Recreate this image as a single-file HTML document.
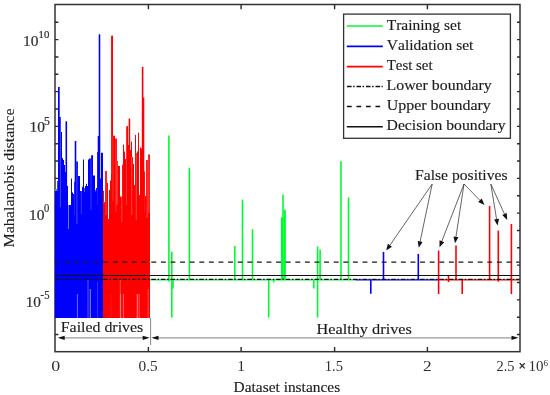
<!DOCTYPE html>
<html><head><meta charset="utf-8"><style>
html,body{margin:0;padding:0;background:#fff;}
svg{display:block;will-change:transform;font-family:"Liberation Serif",serif;fill:#1c1c1c;}
text{stroke:#1c1c1c;stroke-width:0.15px;font-kerning:none;}
</style></head><body>
<svg width="550" height="395" viewBox="0 0 550 395">
<rect width="550" height="395" fill="#fff"/>
<rect x="55.0" y="4.5" width="465.0" height="347.2" fill="none" stroke="#333333" stroke-width="1.5"/>
<path d="M55.0,334.55h3.4M520.0,334.55h-3.0M55.0,317.20h3.4M520.0,317.20h-3.0M55.0,299.85h3.4M520.0,299.85h-3.0M55.0,282.50h3.4M520.0,282.50h-3.0M55.0,265.15h3.4M520.0,265.15h-3.0M55.0,247.80h3.4M520.0,247.80h-3.0M55.0,230.45h3.4M520.0,230.45h-3.0M55.0,213.10h3.4M520.0,213.10h-3.0M55.0,195.75h3.4M520.0,195.75h-3.0M55.0,178.40h3.4M520.0,178.40h-3.0M55.0,161.05h3.4M520.0,161.05h-3.0M55.0,143.70h3.4M520.0,143.70h-3.0M55.0,126.35h3.4M520.0,126.35h-3.0M55.0,109.00h3.4M520.0,109.00h-3.0M55.0,91.65h3.4M520.0,91.65h-3.0M55.0,74.30h3.4M520.0,74.30h-3.0M55.0,56.95h3.4M520.0,56.95h-3.0M55.0,39.60h3.4M520.0,39.60h-3.0M55.0,22.25h3.4M520.0,22.25h-3.0M148.40,351.7v-4.8M148.40,4.5v4.8M241.10,351.7v-4.8M241.10,4.5v4.8M334.60,351.7v-4.8M334.60,4.5v4.8M427.40,351.7v-4.8M427.40,4.5v4.8" stroke="#2a2a2a" stroke-width="1.4" fill="none"/>
<path d="M54.90,318.0 L54.90,191.00 L56.00,191.00 L56.00,189.00 L57.00,189.00 L57.00,181.00 L58.00,181.00 L58.00,87.00 L59.00,87.00 L59.00,117.00 L60.00,117.00 L60.00,117.00 L61.00,117.00 L61.00,132.00 L62.00,132.00 L62.00,158.00 L63.00,158.00 L63.00,160.00 L64.00,160.00 L64.00,165.00 L65.00,165.00 L65.00,172.00 L66.00,172.00 L66.00,121.50 L67.00,121.50 L67.00,186.00 L68.00,186.00 L68.00,205.00 L69.00,205.00 L69.00,205.00 L70.00,205.00 L70.00,205.00 L71.00,205.00 L71.00,178.60 L72.00,178.60 L72.00,192.00 L73.00,192.00 L73.00,194.00 L74.00,194.00 L74.00,181.80 L75.00,181.80 L75.00,141.00 L76.00,141.00 L76.00,161.50 L77.00,161.50 L77.00,161.50 L78.00,161.50 L78.00,176.00 L79.00,176.00 L79.00,176.00 L80.00,176.00 L80.00,191.00 L81.00,191.00 L81.00,191.00 L82.00,191.00 L82.00,186.80 L83.00,186.80 L83.00,159.60 L84.00,159.60 L84.00,188.00 L85.00,188.00 L85.00,186.00 L86.00,186.00 L86.00,183.70 L87.00,183.70 L87.00,186.00 L88.00,186.00 L88.00,159.60 L89.00,159.60 L89.00,158.40 L90.00,158.40 L90.00,158.40 L91.00,158.40 L91.00,155.20 L92.00,155.20 L92.00,155.20 L93.00,155.20 L93.00,175.40 L94.00,175.40 L94.00,175.40 L95.00,175.40 L95.00,190.00 L96.00,190.00 L96.00,188.00 L97.00,188.00 L97.00,152.00 L98.00,152.00 L98.00,136.00 L99.00,136.00 L99.00,34.40 L100.00,34.40 L100.00,178.60 L101.00,178.60 L101.00,152.70 L102.00,152.70 L102.00,152.70 L103.00,152.70 L103.00,318.0 Z" fill="#0000ff"/>
<path d="M103.00,318.0 L103.00,190.80 L104.00,190.80 L104.00,202.00 L105.00,202.00 L105.00,171.00 L106.00,171.00 L106.00,171.00 L107.00,171.00 L107.00,183.00 L108.00,183.00 L108.00,219.00 L109.00,219.00 L109.00,190.00 L110.00,190.00 L110.00,180.50 L111.00,180.50 L111.00,174.50 L112.00,174.50 L112.00,35.70 L113.00,35.70 L113.00,135.80 L114.00,135.80 L114.00,135.80 L115.00,135.80 L115.00,138.40 L116.00,138.40 L116.00,138.40 L117.00,138.40 L117.00,160.90 L118.00,160.90 L118.00,166.00 L119.00,166.00 L119.00,166.00 L120.00,166.00 L120.00,196.50 L121.00,196.50 L121.00,196.50 L122.00,196.50 L122.00,164.70 L123.00,164.70 L123.00,144.40 L124.00,144.40 L124.00,151.40 L125.00,151.40 L125.00,159.00 L126.00,159.00 L126.00,205.00 L127.00,205.00 L127.00,126.30 L128.00,126.30 L128.00,145.00 L129.00,145.00 L129.00,118.70 L130.00,118.70 L130.00,150.00 L131.00,150.00 L131.00,141.50 L132.00,141.50 L132.00,157.00 L133.00,157.00 L133.00,164.00 L134.00,164.00 L134.00,185.00 L135.00,185.00 L135.00,135.00 L136.00,135.00 L136.00,153.00 L137.00,153.00 L137.00,151.40 L138.00,151.40 L138.00,132.70 L139.00,132.70 L139.00,195.00 L140.00,195.00 L140.00,147.60 L141.00,147.60 L141.00,148.50 L142.00,148.50 L142.00,66.90 L143.00,66.90 L143.00,97.80 L144.00,97.80 L144.00,171.60 L145.00,171.60 L145.00,196.00 L146.00,196.00 L146.00,160.00 L147.00,160.00 L147.00,160.00 L148.00,160.00 L148.00,154.60 L149.00,154.60 L149.00,154.60 L150.00,154.60 L150.00,318.0 Z" fill="#ff0000"/>
<line x1="77.4" y1="294" x2="77.4" y2="318.0" stroke="#ffffff" stroke-opacity="0.5" stroke-width="0.9"/>
<line x1="88.0" y1="280" x2="88.0" y2="318.0" stroke="#ffffff" stroke-opacity="0.4" stroke-width="0.9"/>
<line x1="90.3" y1="289" x2="90.3" y2="318.0" stroke="#ffffff" stroke-opacity="0.6" stroke-width="0.9"/>
<line x1="97.7" y1="282" x2="97.7" y2="318.0" stroke="#ffffff" stroke-opacity="0.4" stroke-width="0.9"/>
<line x1="111.4" y1="294" x2="111.4" y2="318.0" stroke="#ffffff" stroke-opacity="0.5" stroke-width="0.9"/>
<line x1="120.3" y1="280" x2="120.3" y2="318.0" stroke="#ffffff" stroke-opacity="0.35" stroke-width="0.9"/>
<line x1="120.6" y1="294" x2="120.6" y2="318.0" stroke="#ffffff" stroke-opacity="0.4" stroke-width="0.9"/>
<line x1="123.4" y1="294" x2="123.4" y2="318.0" stroke="#ffffff" stroke-opacity="0.45" stroke-width="0.9"/>
<line x1="137.3" y1="294" x2="137.3" y2="318.0" stroke="#ffffff" stroke-opacity="0.6" stroke-width="0.9"/>
<line x1="139.2" y1="294" x2="139.2" y2="318.0" stroke="#ffffff" stroke-opacity="0.4" stroke-width="0.9"/>
<line x1="148.1" y1="289" x2="148.1" y2="318.0" stroke="#ffffff" stroke-opacity="0.35" stroke-width="0.9"/>
<line x1="60.3" y1="117" x2="60.3" y2="207" stroke="#ffffff" stroke-opacity="0.35" stroke-width="0.9"/>
<line x1="68.5" y1="205" x2="68.5" y2="229" stroke="#ffffff" stroke-opacity="0.5" stroke-width="0.9"/>
<line x1="76.8" y1="161.5" x2="76.8" y2="224" stroke="#ffffff" stroke-opacity="0.4" stroke-width="0.9"/>
<line x1="56" y1="189" x2="56" y2="191" stroke="#ffffff" stroke-opacity="0.5" stroke-width="0.9"/>
<line x1="57" y1="181" x2="57" y2="191" stroke="#ffffff" stroke-opacity="0.5" stroke-width="0.9"/>
<line x1="72.5" y1="192" x2="72.5" y2="193" stroke="#ffffff" stroke-opacity="0.5" stroke-width="0.9"/>
<line x1="73.6" y1="181.8" x2="73.6" y2="194" stroke="#ffffff" stroke-opacity="0.35" stroke-width="0.9"/>
<line x1="84.5" y1="188" x2="84.5" y2="192" stroke="#ffffff" stroke-opacity="0.35" stroke-width="0.9"/>
<line x1="95.7" y1="188" x2="95.7" y2="192" stroke="#ffffff" stroke-opacity="0.35" stroke-width="0.9"/>
<line x1="81.3" y1="191" x2="81.3" y2="214" stroke="#ffffff" stroke-opacity="0.25" stroke-width="0.9"/>
<line x1="91.0" y1="155.2" x2="91.0" y2="210" stroke="#ffffff" stroke-opacity="0.25" stroke-width="0.9"/>
<line x1="97.8" y1="136" x2="97.8" y2="205" stroke="#ffffff" stroke-opacity="0.25" stroke-width="0.9"/>
<line x1="74.7" y1="141" x2="74.7" y2="215" stroke="#ffffff" stroke-opacity="0.25" stroke-width="0.9"/>
<line x1="106.0" y1="171" x2="106.0" y2="215" stroke="#ffffff" stroke-opacity="0.3" stroke-width="0.9"/>
<line x1="115.9" y1="138.4" x2="115.9" y2="212" stroke="#ffffff" stroke-opacity="0.25" stroke-width="0.9"/>
<line x1="121.8" y1="164.7" x2="121.8" y2="222" stroke="#ffffff" stroke-opacity="0.3" stroke-width="0.9"/>
<line x1="131.7" y1="157" x2="131.7" y2="215" stroke="#ffffff" stroke-opacity="0.3" stroke-width="0.9"/>
<line x1="136.3" y1="153" x2="136.3" y2="220" stroke="#ffffff" stroke-opacity="0.3" stroke-width="0.9"/>
<line x1="143.9" y1="171.6" x2="143.9" y2="212" stroke="#ffffff" stroke-opacity="0.3" stroke-width="0.9"/>
<line x1="147.2" y1="160" x2="147.2" y2="218" stroke="#ffffff" stroke-opacity="0.3" stroke-width="0.9"/>
<line x1="103.9" y1="202" x2="103.9" y2="203" stroke="#ffffff" stroke-opacity="0.4" stroke-width="0.9"/>
<line x1="112.7" y1="135.8" x2="112.7" y2="201" stroke="#ffffff" stroke-opacity="0.45" stroke-width="0.9"/>
<line x1="117.0" y1="160.9" x2="117.0" y2="205" stroke="#ffffff" stroke-opacity="0.35" stroke-width="0.9"/>
<line x1="139.2" y1="195" x2="139.2" y2="195" stroke="#ffffff" stroke-opacity="0.35" stroke-width="0.9"/>
<line x1="145.6" y1="160" x2="145.6" y2="196" stroke="#ffffff" stroke-opacity="0.35" stroke-width="0.9"/>
<line x1="148.9" y1="154.6" x2="148.9" y2="213" stroke="#ffffff" stroke-opacity="0.35" stroke-width="0.9"/>
<line x1="150" y1="279.8" x2="355.5" y2="279.8" stroke="#00fa32" stroke-width="1.3"/>
<line x1="355.5" y1="279.8" x2="438.2" y2="279.8" stroke="#0000ff" stroke-width="1.3"/>
<line x1="438.2" y1="279.8" x2="519.5" y2="279.8" stroke="#ff0000" stroke-width="1.3"/>
<line x1="168.9" y1="135.6" x2="168.9" y2="281.4" stroke="#00fa32" stroke-width="1.6"/>
<line x1="171.8" y1="251.8" x2="171.8" y2="317.6" stroke="#00fa32" stroke-width="1.6"/>
<line x1="173.0" y1="279" x2="173.0" y2="288.8" stroke="#00fa32" stroke-width="1.6"/>
<line x1="189.4" y1="167.8" x2="189.4" y2="279.8" stroke="#00fa32" stroke-width="1.6"/>
<line x1="234.8" y1="246" x2="234.8" y2="279.8" stroke="#00fa32" stroke-width="1.6"/>
<line x1="242.5" y1="199.6" x2="242.5" y2="279.8" stroke="#00fa32" stroke-width="1.6"/>
<line x1="252.5" y1="229.2" x2="252.5" y2="279.8" stroke="#00fa32" stroke-width="1.6"/>
<line x1="268.7" y1="279.8" x2="268.7" y2="317.5" stroke="#00fa32" stroke-width="1.6"/>
<line x1="273.6" y1="279.8" x2="273.6" y2="282.5" stroke="#00fa32" stroke-width="1.6"/>
<line x1="281.7" y1="217.4" x2="281.7" y2="279.8" stroke="#00fa32" stroke-width="1.6"/>
<line x1="283.0" y1="194.6" x2="283.0" y2="279.8" stroke="#00fa32" stroke-width="1.6"/>
<line x1="284.5" y1="209.8" x2="284.5" y2="279.8" stroke="#00fa32" stroke-width="1.6"/>
<line x1="282.3" y1="217.4" x2="282.3" y2="279.8" stroke="#00fa32" stroke-width="1.6"/>
<line x1="285.0" y1="209.8" x2="285.0" y2="279.8" stroke="#00fa32" stroke-width="1.6"/>
<line x1="313.8" y1="279.8" x2="313.8" y2="288.5" stroke="#00fa32" stroke-width="1.6"/>
<line x1="317.6" y1="246.5" x2="317.6" y2="317.5" stroke="#00fa32" stroke-width="1.6"/>
<line x1="320.1" y1="249.5" x2="320.1" y2="279.8" stroke="#00fa32" stroke-width="1.6"/>
<line x1="341.0" y1="161.2" x2="341.0" y2="279.8" stroke="#00fa32" stroke-width="1.6"/>
<line x1="348.5" y1="197.5" x2="348.5" y2="279.8" stroke="#00fa32" stroke-width="1.6"/>
<line x1="370.8" y1="279.8" x2="370.8" y2="293.8" stroke="#0000ff" stroke-width="1.6"/>
<line x1="383.5" y1="251.9" x2="383.5" y2="279.8" stroke="#0000ff" stroke-width="1.6"/>
<line x1="418.3" y1="253.9" x2="418.3" y2="279.8" stroke="#0000ff" stroke-width="1.6"/>
<line x1="438.6" y1="250.5" x2="438.6" y2="294" stroke="#ff0000" stroke-width="1.6"/>
<line x1="448.5" y1="276" x2="448.5" y2="282" stroke="#ff0000" stroke-width="1.6"/>
<line x1="456.0" y1="245.5" x2="456.0" y2="279.8" stroke="#ff0000" stroke-width="1.6"/>
<line x1="462.2" y1="279.8" x2="462.2" y2="294" stroke="#ff0000" stroke-width="1.6"/>
<line x1="489.6" y1="206" x2="489.6" y2="279.8" stroke="#ff0000" stroke-width="1.6"/>
<line x1="498.3" y1="230.6" x2="498.3" y2="281.6" stroke="#ff0000" stroke-width="1.6"/>
<line x1="511.4" y1="224" x2="511.4" y2="294" stroke="#ff0000" stroke-width="1.6"/>
<line x1="58.9" y1="87" x2="58.9" y2="318.0" stroke="#0000ff" stroke-width="1.6"/>
<line x1="66.3" y1="121.5" x2="66.3" y2="318.0" stroke="#0000ff" stroke-width="1.6"/>
<line x1="75.5" y1="141" x2="75.5" y2="318.0" stroke="#0000ff" stroke-width="1.6"/>
<line x1="99.5" y1="34.4" x2="99.5" y2="318.0" stroke="#0000ff" stroke-width="1.6"/>
<line x1="98.5" y1="136" x2="98.5" y2="318.0" stroke="#0000ff" stroke-width="1.6"/>
<line x1="111.9" y1="35.7" x2="111.9" y2="318.0" stroke="#ff0000" stroke-width="1.6"/>
<line x1="142.6" y1="66.9" x2="142.6" y2="318.0" stroke="#ff0000" stroke-width="1.6"/>
<line x1="143.5" y1="97.8" x2="143.5" y2="318.0" stroke="#ff0000" stroke-width="1.6"/>
<line x1="127.0" y1="126.3" x2="127.0" y2="318.0" stroke="#ff0000" stroke-width="1.6"/>
<line x1="129.4" y1="118.7" x2="129.4" y2="318.0" stroke="#ff0000" stroke-width="1.6"/>
<line x1="55.3" y1="262.1" x2="519.5" y2="262.1" stroke="#1a1a1a" stroke-width="1.4" stroke-dasharray="4.9 4.7"/>
<line x1="55.6" y1="275.5" x2="519.5" y2="275.5" stroke="#111" stroke-width="1.2"/>
<line x1="55.3" y1="279.4" x2="519.5" y2="279.4" stroke="#111" stroke-width="1.4" stroke-dasharray="4.6 1.6 1.6 1.8"/>
<line x1="150.6" y1="318" x2="150.6" y2="345" stroke="#888" stroke-width="1"/>
<line x1="60" y1="337.8" x2="146" y2="337.8" stroke="#999" stroke-width="1.2"/>
<line x1="155" y1="337.8" x2="515" y2="337.8" stroke="#999" stroke-width="1.2"/>
<path d="M57.70,337.80 L64.70,335.70 L64.70,339.90 Z" fill="#111"/>
<path d="M149.70,337.80 L142.70,339.90 L142.70,335.70 Z" fill="#111"/>
<path d="M151.50,337.80 L158.50,335.70 L158.50,339.90 Z" fill="#111"/>
<path d="M518.50,337.80 L511.50,339.90 L511.50,335.70 Z" fill="#111"/>
<line x1="432.2" y1="184" x2="389.61" y2="245.66" stroke="#333" stroke-width="0.75"/>
<path d="M386.20,250.60 L387.84,243.83 L391.95,246.67 Z" fill="#111"/>
<line x1="432.2" y1="184" x2="420.03" y2="241.93" stroke="#333" stroke-width="0.75"/>
<path d="M418.80,247.80 L417.69,240.92 L422.58,241.95 Z" fill="#111"/>
<line x1="464" y1="184" x2="441.67" y2="241.70" stroke="#333" stroke-width="0.75"/>
<path d="M439.50,247.30 L439.51,240.34 L444.18,242.14 Z" fill="#111"/>
<line x1="464" y1="184" x2="455.90" y2="237.27" stroke="#333" stroke-width="0.75"/>
<path d="M455.00,243.20 L453.51,236.40 L458.45,237.15 Z" fill="#111"/>
<line x1="464" y1="184" x2="480.31" y2="200.71" stroke="#333" stroke-width="0.75"/>
<path d="M484.50,205.00 L478.17,202.10 L481.75,198.60 Z" fill="#111"/>
<line x1="490.8" y1="184" x2="496.63" y2="219.58" stroke="#333" stroke-width="0.75"/>
<path d="M497.60,225.50 L494.08,219.49 L499.02,218.68 Z" fill="#111"/>
<line x1="490.8" y1="184" x2="504.71" y2="214.54" stroke="#333" stroke-width="0.75"/>
<path d="M507.20,220.00 L502.23,215.12 L506.78,213.05 Z" fill="#111"/>
<rect x="343.6" y="14.1" width="166.8" height="124.2" fill="#fff" stroke="#333" stroke-width="1.3"/>
<line x1="346.8" y1="26" x2="382.8" y2="26" stroke="#00fa32" stroke-width="1.7"/>
<line x1="346.8" y1="46.4" x2="382.8" y2="46.4" stroke="#0000ff" stroke-width="1.7"/>
<line x1="346.8" y1="66.7" x2="382.8" y2="66.7" stroke="#ff0000" stroke-width="1.7"/>
<line x1="347" y1="86.6" x2="382.8" y2="86.6" stroke="#111" stroke-width="1.5" stroke-dasharray="4.6 1.5 1.5 1.9"/>
<line x1="347" y1="106.6" x2="382.8" y2="106.6" stroke="#111" stroke-width="1.5" stroke-dasharray="4.7 4.8"/>
<line x1="346.8" y1="126.8" x2="382.8" y2="126.8" stroke="#111" stroke-width="1.5"/>
<text x="386.72" y="30.00" font-size="15.27" textLength="74.47" lengthAdjust="spacingAndGlyphs">Training set</text>
<text x="386.83" y="50.00" font-size="15.27" textLength="86.57" lengthAdjust="spacingAndGlyphs">Validation set</text>
<text x="386.73" y="70.00" font-size="15.27" textLength="45.86" lengthAdjust="spacingAndGlyphs">Test set</text>
<text x="386.54" y="90.00" font-size="15.27" textLength="105.22" lengthAdjust="spacingAndGlyphs">Lower boundary</text>
<text x="386.67" y="110.40" font-size="15.27" textLength="104.10" lengthAdjust="spacingAndGlyphs">Upper boundary</text>
<text x="386.55" y="130.30" font-size="15.27" textLength="119.01" lengthAdjust="spacingAndGlyphs">Decision boundary</text>
<text x="60.74" y="332.30" font-size="15.12" textLength="82.53" lengthAdjust="spacingAndGlyphs">Failed drives</text>
<text x="316.43" y="334.00" font-size="15.12" textLength="95.46" lengthAdjust="spacingAndGlyphs">Healthy drives</text>
<text x="415.05" y="179.60" font-size="15.27" textLength="92.52" lengthAdjust="spacingAndGlyphs">False positives</text>
<text x="233.56" y="391.90" font-size="15.58" textLength="106.60" lengthAdjust="spacingAndGlyphs">Dataset instances</text>
<text style="stroke:#222;stroke-width:0.1px" transform="translate(14,247) rotate(-90)" x="-0.46" y="0" font-size="15.2" textLength="139.02" lengthAdjust="spacingAndGlyphs">Mahalanobis distance</text>
<text x="23.04" y="45.60" font-size="14.89" textLength="15.45" lengthAdjust="spacingAndGlyphs" style="fill:#303030;stroke:#2a2a2a;stroke-width:0.2px">10</text>
<text x="38.54" y="38.20" font-size="11.28" textLength="10.87" lengthAdjust="spacingAndGlyphs" style="fill:#303030;stroke:#2a2a2a;stroke-width:0.2px">10</text>
<text x="29.44" y="132.20" font-size="15.04" textLength="15.45" lengthAdjust="spacingAndGlyphs" style="fill:#303030;stroke:#2a2a2a;stroke-width:0.2px">10</text>
<text x="44.02" y="125.10" font-size="11.73" textLength="5.83" lengthAdjust="spacingAndGlyphs" style="fill:#303030;stroke:#2a2a2a;stroke-width:0.2px">5</text>
<text x="29.14" y="219.80" font-size="14.44" textLength="15.45" lengthAdjust="spacingAndGlyphs" style="fill:#303030;stroke:#2a2a2a;stroke-width:0.2px">10</text>
<text x="44.10" y="212.40" font-size="11.88" textLength="5.31" lengthAdjust="spacingAndGlyphs" style="fill:#303030;stroke:#2a2a2a;stroke-width:0.2px">0</text>
<text x="25.76" y="306.50" font-size="14.74" textLength="15.22" lengthAdjust="spacingAndGlyphs" style="fill:#303030;stroke:#2a2a2a;stroke-width:0.2px">10</text>
<text x="40.61" y="299.30" font-size="11.45" textLength="8.81" lengthAdjust="spacingAndGlyphs" style="fill:#303030;stroke:#2a2a2a;stroke-width:0.2px">-5</text>
<text x="51.32" y="370.60" font-size="15.04" textLength="8.97" lengthAdjust="spacingAndGlyphs" style="fill:#303030;stroke:none">0</text>
<text x="138.52" y="370.60" font-size="15.04" textLength="19.18" lengthAdjust="spacingAndGlyphs" style="fill:#303030;stroke:none">0.5</text>
<text x="237.23" y="370.60" font-size="15.04" textLength="7.81" lengthAdjust="spacingAndGlyphs" style="fill:#303030;stroke:none">1</text>
<text x="324.72" y="370.60" font-size="15.04" textLength="18.25" lengthAdjust="spacingAndGlyphs" style="fill:#303030;stroke:none">1.5</text>
<text x="423.14" y="370.60" font-size="15.04" textLength="8.61" lengthAdjust="spacingAndGlyphs" style="fill:#303030;stroke:none">2</text>
<text x="496.47" y="370.60" font-size="15.04" textLength="17.99" lengthAdjust="spacingAndGlyphs" style="fill:#303030;stroke:none">2.5</text>
<text style="fill:#303030;stroke:#303030;stroke-width:0.6px" x="518.63" y="370.00" font-size="13.50" textLength="6.93" lengthAdjust="spacingAndGlyphs">×</text>
<text x="528.48" y="370.60" font-size="15.04" textLength="14.99" lengthAdjust="spacingAndGlyphs" style="fill:#303030;stroke:none">10</text>
<text x="543.51" y="365.60" font-size="9.02" textLength="4.56" lengthAdjust="spacingAndGlyphs" style="fill:#303030;stroke:none">6</text>
</svg></body></html>
